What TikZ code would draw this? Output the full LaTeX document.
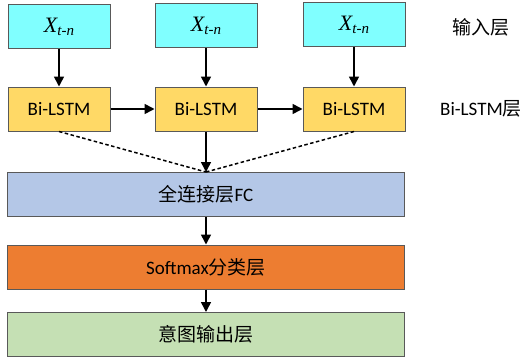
\documentclass[tikz,border=0pt]{standalone}
\usepackage{fontspec}
\setmainfont{Carlito}
\newfontfamily\cjkfont{Noto Sans CJK SC}
\newfontfamily\mathserif{Liberation Serif}
\usepackage{tikz}
\usetikzlibrary{arrows.meta,positioning}
\definecolor{inputcyan}{HTML}{80FFFF}
\definecolor{lstmyellow}{HTML}{FFD966}
\definecolor{fcblue}{HTML}{B4C7E7}
\definecolor{softorange}{HTML}{ED7D31}
\definecolor{outgreen}{HTML}{C5E0B4}
\definecolor{edgegray}{HTML}{595959}

\begin{document}
\begin{tikzpicture}[x=1pt,y=-1pt,>={Triangle[length=10pt,width=10pt]},
layerbox/.style={draw=edgegray,line width=1pt,minimum height=44pt,inner sep=0pt,font=\fontsize{19}{22}\selectfont},
smallbox/.style={layerbox,minimum width=102pt},
widebox/.style={layerbox,minimum width=397pt},
sidelabel/.style={font=\fontsize{19}{22}\selectfont},
flow/.style={->,line width=1.6pt},
joinline/.style={line width=1.5pt,dash pattern=on 3.5pt off 2.5pt}]
\useasboundingbox (0,0) rectangle (524,361);
% input row
\node[smallbox,fill=inputcyan] (x1) at (59,27) {\mathserif\fontsize{22}{24}\selectfont\itshape X\raisebox{-3pt}{\fontsize{15}{16}\selectfont t-n}};
\node[smallbox,fill=inputcyan] (x2) at (206,26) {\mathserif\fontsize{22}{24}\selectfont\itshape X\raisebox{-3pt}{\fontsize{15}{16}\selectfont t-n}};
\node[smallbox,fill=inputcyan] (x3) at (354,25) {\mathserif\fontsize{22}{24}\selectfont\itshape X\raisebox{-3pt}{\fontsize{15}{16}\selectfont t-n}};
% Bi-LSTM row
\node[smallbox,fill=lstmyellow] (l1) at (59,109) {Bi-LSTM};
\node[smallbox,fill=lstmyellow] (l2) at (206,109) {Bi-LSTM};
\node[smallbox,fill=lstmyellow] (l3) at (354,109) {Bi-LSTM};
% stacked layers
\node[widebox,fill=fcblue] (fc) at (206,194.5) {{\cjkfont 全连接层}FC};
\node[widebox,fill=softorange] (sm) at (206,267) {Softmax{\cjkfont 分类层}};
\node[widebox,fill=outgreen] (out) at (206,334.5) {\cjkfont 意图输出层};
% side labels
\node[sidelabel] (inlabel) at (481,27) {\cjkfont 输入层};
\node[sidelabel] (lstmlabel) at (481,109) {Bi-LSTM{\cjkfont 层}};
% arrows
\draw[flow] (x1) -- (l1);
\draw[flow] (x2) -- (l2);
\draw[flow] (x3) -- (l3);
\draw[flow] (l1) -- (l2);
\draw[flow] (l2) -- (l3);
\draw[flow] (l2) -- (fc);
\draw[joinline] (l1.south) -- (fc.north);
\draw[joinline] (l3.south) -- (fc.north);
\draw[flow] (fc) -- (sm);
\draw[flow] (sm) -- (out);
\end{tikzpicture}
\end{document}
